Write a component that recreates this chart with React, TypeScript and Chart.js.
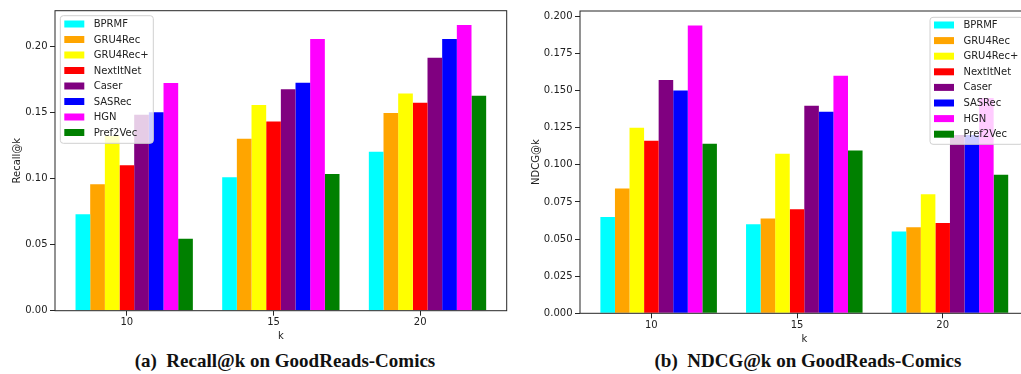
import React, { useEffect, useRef } from "react";
import { Chart, registerables } from "chart.js";

Chart.register(...registerables);

// ---------- data ----------
const K_VALUES = [10, 15, 20];
const METHODS = ["BPRMF", "GRU4Rec", "GRU4Rec+", "NextItNet", "Caser", "SASRec", "HGN", "Pref2Vec"];
const COLORS = ["#00ffff", "#ffa500", "#ffff00", "#ff0000", "#800080", "#0000ff", "#ff00ff", "#008000"];

const RECALL_BPRMF = [0.0728, 0.1008, 0.1202];
const RECALL_GRU4REC = [0.0955, 0.13, 0.1494];
const RECALL_GRU4RECP = [0.132, 0.1554, 0.1642];
const RECALL_NEXTITNET = [0.11, 0.143, 0.1572];
const RECALL_CASER = [0.148, 0.1673, 0.1912];
const RECALL_SASREC = [0.15, 0.1723, 0.2053];
const RECALL_HGN = [0.172, 0.2053, 0.2159];
const RECALL_PREF2VEC = [0.0544, 0.1033, 0.1625];

const NDCG_BPRMF = [0.0649, 0.06, 0.0551];
const NDCG_GRU4REC = [0.084, 0.0638, 0.058];
const NDCG_GRU4RECP = [0.1249, 0.1074, 0.0802];
const NDCG_NEXTITNET = [0.1162, 0.0701, 0.0609];
const NDCG_CASER = [0.1571, 0.1398, 0.12];
const NDCG_SASREC = [0.1501, 0.1357, 0.12];
const NDCG_HGN = [0.1939, 0.16, 0.145];
const NDCG_PREF2VEC = [0.1142, 0.1097, 0.0933];

const RECALL_SERIES = [RECALL_BPRMF, RECALL_GRU4REC, RECALL_GRU4RECP, RECALL_NEXTITNET, RECALL_CASER, RECALL_SASREC, RECALL_HGN, RECALL_PREF2VEC];
const NDCG_SERIES = [NDCG_BPRMF, NDCG_GRU4REC, NDCG_GRU4RECP, NDCG_NEXTITNET, NDCG_CASER, NDCG_SASREC, NDCG_HGN, NDCG_PREF2VEC];

const RECALL_TICKS = [0, 0.05, 0.1, 0.15, 0.2];
const NDCG_TICKS = [0, 0.025, 0.05, 0.075, 0.1, 0.125, 0.15, 0.175, 0.2];

// bar width in data units (k axis), as in matplotlib code: x + (i-3)*w
const BAR_W = 0.5;

const FONT = "DejaVu Sans";
const TEXT = "#222222";

const frameLegendPlugin = {
  id: "frameLegend",
  afterDatasetsDraw(chart: any, _args: any, opts: any) {
    const { ctx, chartArea: a } = chart;
    ctx.save();
    ctx.strokeStyle = "#262626";
    ctx.lineWidth = 1;
    ctx.strokeRect(a.left, a.top, a.right - a.left, a.bottom - a.top);
    const L = opts.legend;
    if (L) {
      const r = 3;
      ctx.beginPath();
      ctx.moveTo(L.x + r, L.y);
      ctx.lineTo(L.x + L.w - r, L.y);
      ctx.arcTo(L.x + L.w, L.y, L.x + L.w, L.y + r, r);
      ctx.lineTo(L.x + L.w, L.y + L.h - r);
      ctx.arcTo(L.x + L.w, L.y + L.h, L.x + L.w - r, L.y + L.h, r);
      ctx.lineTo(L.x + r, L.y + L.h);
      ctx.arcTo(L.x, L.y + L.h, L.x, L.y + L.h - r, r);
      ctx.lineTo(L.x, L.y + r);
      ctx.arcTo(L.x, L.y, L.x + r, L.y, r);
      ctx.closePath();
      ctx.fillStyle = "rgba(255,255,255,0.8)";
      ctx.fill();
      ctx.strokeStyle = "#d0d0d0";
      ctx.stroke();
      ctx.font = `10px "${FONT}"`;
      ctx.textBaseline = "middle";
      ctx.textAlign = "left";
      chart.data.datasets.forEach((ds: any, i: number) => {
        const cy = L.y + L.first + i * L.gap;
        ctx.fillStyle = ds.backgroundColor;
        ctx.fillRect(L.x + 4, cy - 3.5, 20, 7);
        ctx.fillStyle = TEXT;
        ctx.fillText(ds.label, L.x + 33.4, cy + 0.5);
      });
    }
    ctx.restore();
  },
};

function makeConfig(series: number[][], yTicks: number[], decimals: number, yTitle: string, lay: any) {
  const lo = K_VALUES[0] - 3.5 * BAR_W;
  const hi = K_VALUES[K_VALUES.length - 1] + 4.5 * BAR_W;
  const xPad = (hi - lo) * 0.05;
  const yMax = Math.max(...series.flat()) * 1.05;
  return {
    type: "bar",
    data: {
      datasets: series.map((vals, i) => ({
        label: METHODS[i],
        data: vals.map((v, j) => ({ x: K_VALUES[j] + BAR_W / 2, y: v })),
        backgroundColor: COLORS[i],
        borderWidth: 0,
        barPercentage: 1,
        categoryPercentage: 0.8,
      })),
    },
    options: {
      animation: false,
      responsive: false,
      devicePixelRatio: 1,
      layout: { padding: { left: 0, top: lay.top, right: lay.right, bottom: 0 } },
      plugins: {
        legend: { display: false },
        tooltip: { enabled: false },
        frameLegend: { legend: lay.legend },
      },
      scales: {
        x: {
          type: "linear",
          offset: false,
          min: lo - xPad,
          max: hi + xPad,
          afterBuildTicks: (s: any) => {
            s.ticks = K_VALUES.map((v) => ({ value: v }));
          },
          afterFit: (s: any) => {
            s.height = lay.xH;
          },
          ticks: {
            callback: (v: any) => String(v),
            font: { family: FONT, size: 10 },
            color: TEXT,
            padding: 1,
            maxRotation: 0,
            autoSkip: false,
          },
          grid: { offset: false, drawOnChartArea: false, drawTicks: true, tickLength: 5, color: "#262626" },
          border: { display: false },
          title: {
            display: true,
            text: "k",
            font: { family: FONT, size: 10 },
            color: TEXT,
            padding: { top: 0, bottom: lay.kPad },
          },
        },
        y: {
          type: "linear",
          min: 0,
          max: yMax,
          afterBuildTicks: (s: any) => {
            s.ticks = yTicks.map((v) => ({ value: v }));
          },
          afterFit: (s: any) => {
            s.width = lay.yW;
          },
          ticks: {
            callback: (v: any) => Number(v).toFixed(decimals),
            font: { family: FONT, size: 10 },
            color: TEXT,
            padding: 2.5,
            autoSkip: false,
          },
          grid: { drawOnChartArea: false, drawTicks: true, tickLength: 5, color: "#262626" },
          border: { display: false },
          title: {
            display: true,
            text: yTitle,
            font: { family: FONT, size: 10 },
            color: TEXT,
            padding: { top: lay.yTitlePad, bottom: 0 },
          },
        },
      },
    },
    plugins: [frameLegendPlugin],
  };
}

function BarChart(props: { series: number[][]; ticks: number[]; decimals: number; yTitle: string; lay: any; width: number; height: number; style: any }) {
  const ref = useRef<HTMLCanvasElement | null>(null);
  useEffect(() => {
    if (!ref.current) return;
    const chart = new Chart(ref.current, makeConfig(props.series, props.ticks, props.decimals, props.yTitle, props.lay) as any);
    return () => chart.destroy();
  }, []);
  return (
    <canvas
      ref={ref}
      width={props.width}
      height={props.height}
      style={{ position: "absolute", width: props.width, height: props.height, ...props.style }}
    />
  );
}

const captionStyle: any = {
  position: "absolute",
  width: 420,
  textAlign: "center",
  fontFamily: '"Liberation Serif", "Times New Roman", serif',
  fontWeight: "bold",
  fontSize: 19,
  lineHeight: "20px",
  color: "#111",
  whiteSpace: "pre",
};

export default function App() {
  return (
    <div style={{ position: "absolute", left: 0, top: 0, width: 1021, height: 374, overflow: "hidden", background: "#fff" }}>
      <BarChart
        series={RECALL_SERIES}
        ticks={RECALL_TICKS}
        decimals={2}
        yTitle="Recall@k"
        width={510}
        height={350}
        style={{ left: 0, top: 0 }}
        lay={{
          top: 10.7,
          right: 3.3,
          yW: 55,
          xH: 39.3,
          kPad: 8,
          yTitlePad: 11,
          legend: { x: 60.3, y: 15.7, w: 93, h: 127.6, first: 8.3, gap: 15.5 },
        }}
      />
      <BarChart
        series={NDCG_SERIES}
        ticks={NDCG_TICKS}
        decimals={3}
        yTitle="NDCG@k"
        width={530}
        height={350}
        style={{ left: 510, top: 0 }}
        lay={{
          top: 11,
          right: 11.4,
          yW: 70,
          xH: 36.7,
          kPad: 4.7,
          yTitlePad: 20,
          legend: { x: 420, y: 17.3, w: 93, h: 127, first: 7.7, gap: 15.6 },
        }}
      />
      <div style={{ ...captionStyle, left: 285 - 210, top: 351 }}>{"(a)  Recall@k on GoodReads-Comics"}</div>
      <div style={{ ...captionStyle, left: 808 - 210, top: 351 }}>{"(b)  NDCG@k on GoodReads-Comics"}</div>
    </div>
  );
}
